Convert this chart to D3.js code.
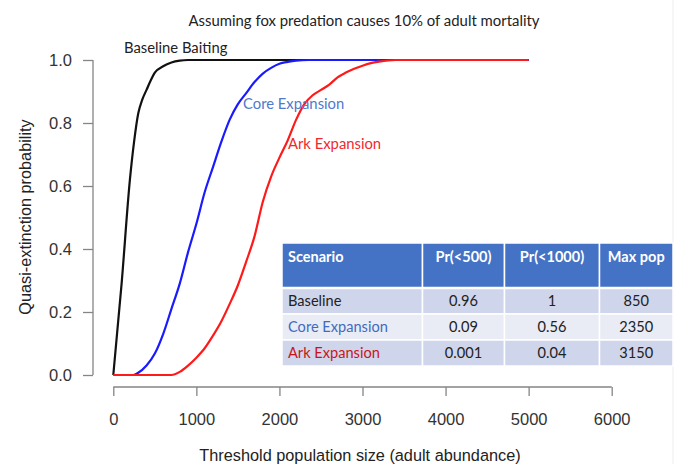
<!DOCTYPE html>
<html lang="en">
<head>
<meta charset="UTF-8">
<title>Quasi-extinction probability</title>
<script src="https://d3js.org/d3.v7.min.js"></script>
<style>
  body { margin: 0; background: #fff; }
  svg { display: block; }
</style>
</head>
<body>
<div id="chart"></div>
<script>
// Data: [threshold, probability]
const baseline = [[0,0],[100,0.29],[200,0.62],[250,0.74],[300,0.83],[350,0.875],[400,0.905],[450,0.935],[500,0.96],[600,0.98],[700,0.992],[800,0.998],[900,1],[5000,1]];
const coreExp = [[0,0],[240,0],[300,0.007],[400,0.03],[500,0.068],[600,0.13],[700,0.21],[800,0.29],[900,0.39],[1000,0.48],[1100,0.58],[1200,0.66],[1300,0.74],[1400,0.81],[1500,0.86],[1600,0.895],[1700,0.93],[1800,0.957],[1900,0.975],[2000,0.988],[2100,0.994],[2200,0.998],[2350,1],[5000,1]];
const arkExp = [[0,0],[700,0],[800,0.01],[900,0.03],[1000,0.055],[1100,0.085],[1200,0.125],[1300,0.17],[1400,0.225],[1500,0.285],[1600,0.36],[1700,0.44],[1800,0.55],[1900,0.63],[2000,0.69],[2100,0.745],[2200,0.81],[2300,0.86],[2400,0.888],[2500,0.905],[2600,0.922],[2700,0.945],[2800,0.96],[2900,0.972],[3000,0.982],[3100,0.99],[3200,0.995],[3400,1],[5000,1]];

const xTicks = [0, 1000, 2000, 3000, 4000, 5000, 6000];
const yTicks = [0, 0.2, 0.4, 0.6, 0.8, 1.0];

const tableHeader = ["Scenario", "Pr(<500)", "Pr(<1000)", "Max pop"];
const tableRows = [
  ["Baseline", "0.96", "1", "850"],
  ["Core Expansion", "0.09", "0.56", "2350"],
  ["Ark Expansion", "0.001", "0.04", "3150"]
];

const W = 680, H = 464;
const svg = d3.select("#chart").append("svg").attr("width", W).attr("height", H);

const x = d3.scaleLinear().domain([0, 6000]).range([113.3, 611.7]);
const y = d3.scaleLinear().domain([0, 1]).range([375, 60]);

const axisCol = "#858585";
const labelFont = "'Liberation Sans', Arial, sans-serif";
const cal = "Lato, 'Open Sans', sans-serif";

// faint slide edge on the right
svg.append("line").attr("x1", 673).attr("x2", 673).attr("y1", 0).attr("y2", H)
  .attr("stroke", "#ededed").attr("stroke-width", 1);

// title
svg.append("text").attr("x", 364).attr("y", 26).attr("text-anchor", "middle")
  .attr("font-family", cal).attr("font-size", 14.9).attr("fill", "#222")
  .text("Assuming fox predation causes 10% of adult mortality");

// x axis (R style, offset below plot)
const xAxis = svg.append("g").attr("transform", "translate(0,387)")
  .call(d3.axisBottom(x).tickValues(xTicks).tickSize(9).tickPadding(17).tickFormat(d3.format("d")));
// y axis
const yAxis = svg.append("g").attr("transform", "translate(93,0)")
  .call(d3.axisLeft(y).tickValues(yTicks).tickSize(10).tickPadding(11).tickFormat(d3.format(".1f")));

[xAxis, yAxis].forEach(g => {
  g.select(".domain").attr("stroke", axisCol).attr("stroke-width", 1.3);
  g.selectAll(".tick line").attr("stroke", axisCol).attr("stroke-width", 1.3);
  g.selectAll(".tick text").attr("fill", "#333").attr("font-family", labelFont).attr("font-size", 16.5);
});
// trim domain ends so the tick caps don't extend
xAxis.select(".domain").attr("d", `M${x(0)},0H${x(6000)}`);
yAxis.select(".domain").attr("d", `M0,${y(0)}V${y(1)}`);

// axis titles
svg.append("text").attr("x", 360).attr("y", 461).attr("text-anchor", "middle")
  .attr("font-family", labelFont).attr("font-size", 16.3).attr("fill", "#222")
  .text("Threshold population size (adult abundance)");
svg.append("text").attr("transform", "translate(31,217) rotate(-90)").attr("text-anchor", "middle")
  .attr("font-family", labelFont).attr("font-size", 16.3).attr("fill", "#222")
  .text("Quasi-extinction probability");

// curves
const line = d3.line().x(d => x(d[0])).y(d => y(d[1])).curve(d3.curveMonotoneX);
[[baseline, "#111"], [coreExp, "#1a1aff"], [arkExp, "#ff1a1a"]].forEach(([data, col]) => {
  svg.append("path").datum(data).attr("fill", "none").attr("stroke", col)
    .attr("stroke-width", 2.2).attr("stroke-linejoin", "round").attr("d", line);
});

// curve labels
svg.append("text").attr("x", 124).attr("y", 53).attr("font-family", cal)
  .attr("font-size", 14.8).attr("fill", "#222").text("Baseline Baiting");
svg.append("text").attr("x", 243).attr("y", 109).attr("font-family", cal)
  .attr("font-size", 14.8).attr("fill", "#4f79cc").text("Core Expansion");
svg.append("text").attr("x", 288).attr("y", 149).attr("font-family", cal)
  .attr("font-size", 14.8).attr("fill", "#f0282d").text("Ark Expansion");

// table
const colEdges = [282, 422.5, 504.5, 599.5, 673];
const rowEdges = [243, 288, 314, 340, 366];
const rowFill = ["#cfd5ea", "#e9ebf5", "#cfd5ea"];
const rowText = ["#222", "#3f6cc0", "#c8151d"];
const tbl = svg.append("g");

tableHeader.forEach((h, j) => {
  tbl.append("rect").attr("x", colEdges[j]).attr("y", rowEdges[0])
    .attr("width", colEdges[j + 1] - colEdges[j]).attr("height", rowEdges[1] - rowEdges[0])
    .attr("fill", "#4472c4").attr("stroke", "#fff").attr("stroke-width", 1.5);
  tbl.append("text")
    .attr("x", j === 0 ? colEdges[0] + 6 : (colEdges[j] + colEdges[j + 1]) / 2)
    .attr("y", rowEdges[0] + 19)
    .attr("text-anchor", j === 0 ? "start" : "middle")
    .attr("font-family", cal).attr("font-size", 14.5).attr("font-weight", "bold")
    .attr("fill", "#fff").text(h);
});

tableRows.forEach((r, i) => {
  r.forEach((v, j) => {
    tbl.append("rect").attr("x", colEdges[j]).attr("y", rowEdges[i + 1])
      .attr("width", colEdges[j + 1] - colEdges[j]).attr("height", rowEdges[i + 2] - rowEdges[i + 1])
      .attr("fill", rowFill[i]).attr("stroke", "#fff").attr("stroke-width", 1.5);
    tbl.append("text")
      .attr("x", j === 0 ? colEdges[0] + 6 : (colEdges[j] + colEdges[j + 1]) / 2)
      .attr("y", (rowEdges[i + 1] + rowEdges[i + 2]) / 2 + 5)
      .attr("text-anchor", j === 0 ? "start" : "middle")
      .attr("font-family", cal).attr("font-size", 14.6)
      .attr("fill", j === 0 ? rowText[i] : "#222").text(v);
  });
});
// thicker white line under header
tbl.append("line").attr("x1", colEdges[0]).attr("x2", colEdges[4])
  .attr("y1", rowEdges[1]).attr("y2", rowEdges[1]).attr("stroke", "#fff").attr("stroke-width", 2.5);
</script>
</body>
</html>
